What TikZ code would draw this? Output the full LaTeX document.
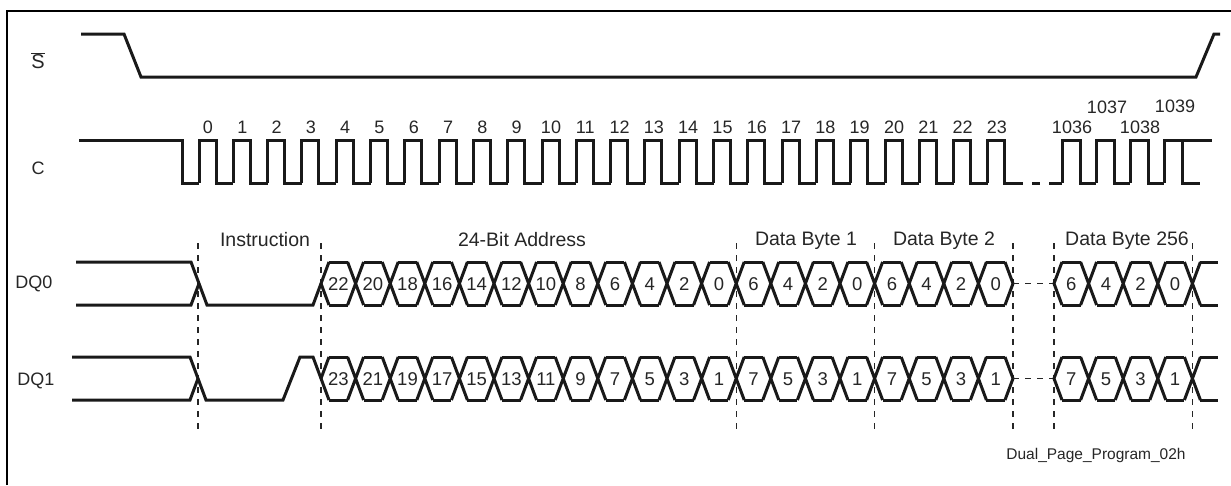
\documentclass[tikz,border=0pt]{standalone}
\usepackage{fontspec}
\setmainfont{Liberation Sans}
\tikzset{
	wave/.style={line width=3pt, draw=black!90},
	guide/.style={line width=1.2pt, dash pattern=on 6pt off 6pt, draw=black!85},
	framing/.style={line width=2.4pt, draw=black},
	siglabel/.style={font=\fontsize{18}{20}\selectfont, inner sep=0pt, text=black!85},
	ticklabel/.style={font=\fontsize{18}{20}\selectfont, inner sep=0pt, text=black!85},
	bitlabel/.style={font=\fontsize{18.5}{20}\selectfont, inner sep=0pt, text=black!85},
	fieldlabel/.style={font=\fontsize{19.5}{22}\selectfont, inner sep=0pt, text=black!85},
	notelabel/.style={font=\fontsize{15.5}{18}\selectfont, inner sep=0pt, text=black!85},
}

\begin{document}
\begin{tikzpicture}[x=1pt, y=-1pt]
	\useasboundingbox (0,0) rectangle (1231,485);
	\draw[framing] (7,485) -- (7,11) -- (1231,11);

	% signal names
	\node[siglabel, font=\fontsize{20}{22}\selectfont] (lblS) at (38,61) {$\overline{\mbox{S}}$};
	\node[siglabel] (lblC) at (38,168) {C};
	\node[siglabel] (lblDQa) at (34,283.5) {DQ0};
	\node[siglabel] (lblDQb) at (36,381) {DQ1};

	% chip select
	\draw[wave] (81,34) -- (124,34) -- (141,77) -- (1196,77) -- (1214,34) -- (1220,34);

	% clock
	\draw[wave] (79,140) -- (182,140) -- (182,183) -- (199,183);
	\foreach \k in {0,...,23} {
		\pgfmathsetmacro{\rx}{199+34.3*\k}
		\draw[wave] (\rx,183) -- (\rx,140) -- (\rx+17,140) -- (\rx+17,183) -- (\rx+34.3,183);
		\node[ticklabel] (tick\k) at (\rx+9,127) {\k};
	}
	\draw[wave] (1020,183) -- (1023,183);
	\draw[wave] (1032,183) -- (1040,183);
	\draw[wave] (1049,183) -- (1062,183);
	\foreach \j in {0,1,2} {
		\pgfmathsetmacro{\rx}{1062+34*\j}
		\draw[wave] (\rx,183) -- (\rx,140) -- (\rx+18,140) -- (\rx+18,183) -- (\rx+34,183);
	}
	\draw[wave] (1164,183) -- (1164,140) -- (1212,140);
	\draw[wave] (1182,140) -- (1182,183) -- (1200,183);
	\node[ticklabel] (tick1036) at (1072,127) {1036};
	\node[ticklabel] (tick1037) at (1107,107) {1037};
	\node[ticklabel] (tick1038) at (1140,127) {1038};
	\node[ticklabel] (tick1039) at (1175,106) {1039};

	% phase boundaries
	\foreach \gx in {198,321,736.2,874.6,1013,1054,1192.4}
		\draw[guide] (\gx,243) -- (\gx,430);
	\node[fieldlabel] (instr) at (265,240) {Instruction};
	\node[fieldlabel] (addr) at (522,240) {24-Bit Address};
	\node[fieldlabel] (byte1) at (806,241) {Data Byte 1};
	\node[fieldlabel] (byte2) at (944,241) {Data Byte 2};
	\node[fieldlabel] (byte256) at (1127,241) {Data Byte 256};

	% DQ0 lead-in
	\draw[wave] (76,262) -- (191,262) -- (207,305) -- (313,305) -- (329,262);
	\draw[wave] (76,305) -- (191,305) -- (199,283.5);
	% DQ1 lead-in
	\draw[wave] (72,357) -- (190,357) -- (206,400) -- (283,400) -- (300,357) -- (313,357) -- (329,400);
	\draw[wave] (72,400) -- (190,400) -- (198,378.5);

	% data buses
	\foreach \hi/\lo in {262/305, 357/400} {
		\pgfmathsetmacro{\midy}{(\hi+\lo)/2}
		\ifdim\hi pt<300pt
			\draw[wave] (321,\midy) -- (329,\lo);
		\else
			\draw[wave] (321,\midy) -- (329,\hi);
		\fi
		\foreach \j in {0,...,19} {
			\pgfmathsetmacro{\cx}{321+34.6*\j}
			\draw[wave] (\cx+8,\hi) -- (\cx+26.6,\hi) (\cx+8,\lo) -- (\cx+26.6,\lo);
		}
		\foreach \j in {1,...,19} {
			\pgfmathsetmacro{\cx}{321+34.6*\j}
			\draw[wave] (\cx-8,\hi) -- (\cx+8,\lo) (\cx-8,\lo) -- (\cx+8,\hi);
		}
		\draw[wave] (1005,\hi) -- (1013,\midy) -- (1005,\lo);
		\draw[guide] (1013,\midy) -- (1054,\midy);
		\draw[wave] (1062,\hi) -- (1054,\midy) -- (1062,\lo);
		\foreach \j in {0,...,3} {
			\pgfmathsetmacro{\cx}{1054+34.6*\j}
			\draw[wave] (\cx+8,\hi) -- (\cx+26.6,\hi) (\cx+8,\lo) -- (\cx+26.6,\lo);
		}
		\foreach \j in {1,...,4} {
			\pgfmathsetmacro{\cx}{1054+34.6*\j}
			\draw[wave] (\cx-8,\hi) -- (\cx+8,\lo) (\cx-8,\lo) -- (\cx+8,\hi);
		}
		\draw[wave] (1200.4,\hi) -- (1218,\hi) (1200.4,\lo) -- (1218,\lo);
	}

	% bit numbers
	\foreach \v [count=\j from 0] in {22,20,18,16,14,12,10,8,6,4,2,0,6,4,2,0,6,4,2,0}
		\node[bitlabel] (dqa\j) at (321+34.6*\j+17.3,284) {\v};
	\foreach \v [count=\j from 0] in {6,4,2,0}
		\node[bitlabel] (dqaz\j) at (1054+34.6*\j+17.3,284) {\v};
	\foreach \v [count=\j from 0] in {23,21,19,17,15,13,11,9,7,5,3,1,7,5,3,1,7,5,3,1}
		\node[bitlabel] (dqb\j) at (321+34.6*\j+17.3,379) {\v};
	\foreach \v [count=\j from 0] in {7,5,3,1}
		\node[bitlabel] (dqbz\j) at (1054+34.6*\j+17.3,379) {\v};

	\node[notelabel] (figref) at (1096,455) {Dual\_Page\_Program\_02h};
\end{tikzpicture}
\end{document}
